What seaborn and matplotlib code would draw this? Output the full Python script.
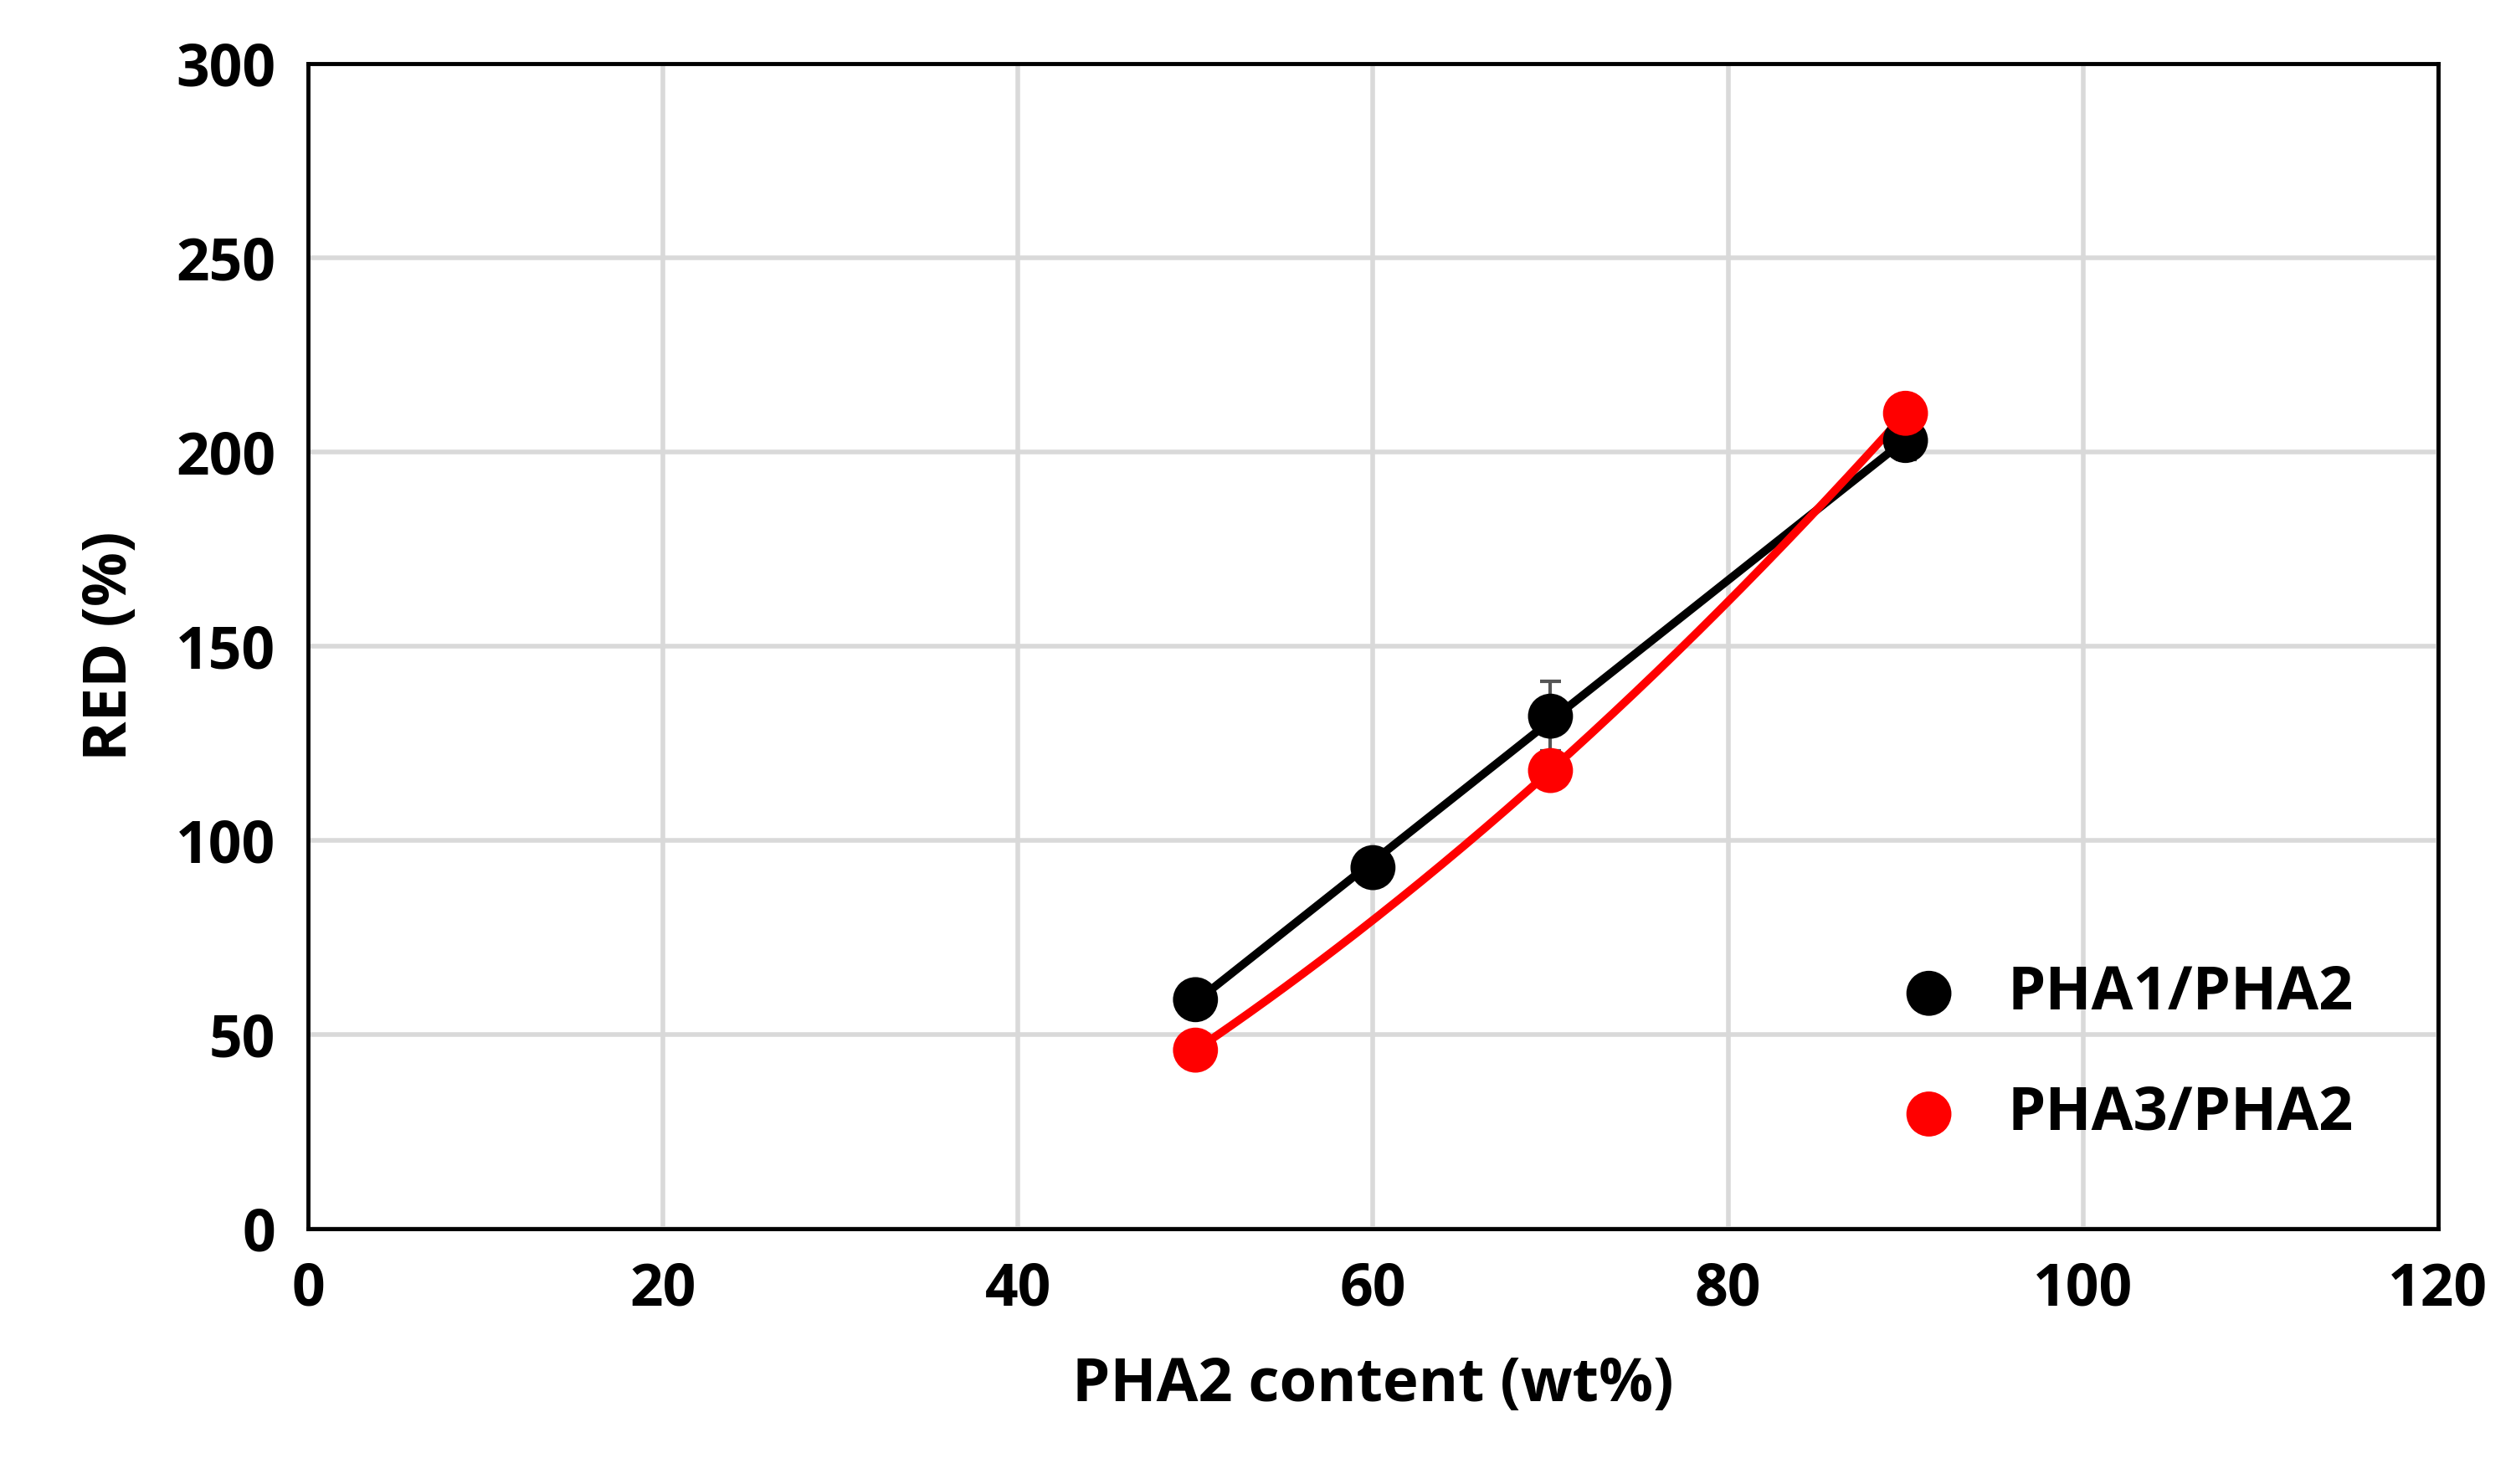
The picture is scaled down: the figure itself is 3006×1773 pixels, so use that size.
import numpy as np
import matplotlib
matplotlib.use("Agg")
import matplotlib.pyplot as plt
import seaborn as sns

# data
x1 = [50, 60, 70, 90]
y1 = [59, 93, 132, 203]
e1 = [2, 2, 9, 5]
x3 = [50, 70, 90]
y3 = [46, 118, 210]
e3 = [2, 4, 2]

sns.set_style('white')
plt.rcParams['font.family'] = ['Open Sans', 'DejaVu Sans']
plt.rcParams['font.weight'] = 'bold'
plt.rcParams['text.color'] = 'black'
plt.rcParams['xtick.color'] = 'black'
plt.rcParams['ytick.color'] = 'black'
plt.rcParams['axes.labelcolor'] = 'black'

fig = plt.figure(figsize=(30.06, 17.73), dpi=100)
ax = fig.add_axes([0.1224, 0.172, 0.8466, 0.785])

# polynomial (order 2) trendlines
xs1 = np.linspace(50, 90, 200)
p = np.polyfit(x1, y1, 2)
sns.lineplot(x=xs1, y=np.polyval(p, xs1), color='black', lw=7, ax=ax)
q = np.polyfit(x3, y3, 2)
sns.lineplot(x=xs1, y=np.polyval(q, xs1), color='red', lw=7, ax=ax)

ax.errorbar(x1, y1, yerr=e1, fmt='none', ecolor='#555555', elinewidth=3, capsize=9, capthick=3, zorder=3)
ax.errorbar(x3, y3, yerr=e3, fmt='none', ecolor='#555555', elinewidth=3, capsize=9, capthick=3, zorder=3)
sns.scatterplot(x=x1, y=y1, color='black', s=1500, edgecolor='none', ax=ax, zorder=4, label='PHA1/PHA2')
sns.scatterplot(x=x3, y=y3, color='red', s=1500, edgecolor='none', ax=ax, zorder=5, label='PHA3/PHA2')

ax.set_xlim(0, 120)
ax.set_ylim(0, 300)
ax.set_xticks(range(0, 121, 20))
ax.set_yticks(range(0, 301, 50))
ax.grid(True, color='#d9d9d9', lw=4)
for s in ax.spines.values():
    s.set_color('black')
    s.set_linewidth(3.5)
ax.tick_params(labelsize=50, length=0, pad=28)
for t in ax.get_xticklabels() + ax.get_yticklabels():
    t.set_fontweight('bold')
ax.set_xlabel('PHA2 content (wt%)', fontsize=52, fontweight='bold', labelpad=30)
ax.set_ylabel('RED (%)', fontsize=52, fontweight='bold', labelpad=30)

leg = ax.legend(loc='lower right', frameon=False, fontsize=52, markerscale=1.0,
                handletextpad=0.3, labelspacing=1.0, borderaxespad=1.0)
for t in leg.get_texts():
    t.set_fontweight('bold')

fig.savefig('out.png', dpi=100)
